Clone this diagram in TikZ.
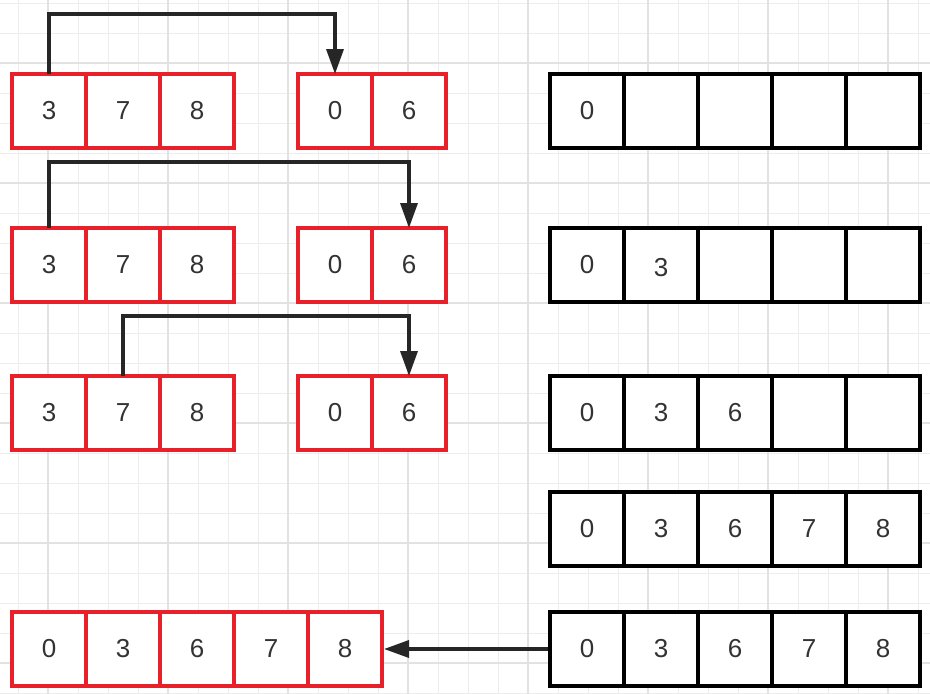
\documentclass[tikz,border=0pt]{standalone}
\usepackage{fontspec}
\setmainfont{Liberation Sans}
\usetikzlibrary{chains,arrows.meta}
\definecolor{cellred}{HTML}{E8202A}
\definecolor{ink}{HTML}{262626}
\definecolor{gridminor}{HTML}{EDEDED}
\definecolor{gridmajor}{HTML}{E2E2E2}

\begin{document}
\begin{tikzpicture}[x=1pt,y=-1pt]
        \tikzstyle{every node}=[font=\fontsize{26}{30}\selectfont,text=black!80]

        \edef\sizecell{74pt}
        \tikzstyle{rc}=[draw=cellred,line width=4pt,fill=white,minimum size=\sizecell,outer sep=0pt,inner sep=0pt]
        \tikzstyle{bc}=[draw=black,line width=4.5pt,fill=white,minimum size=\sizecell,outer sep=0pt,inner sep=0pt]
        \tikzstyle{link}=[draw=ink,line width=3.5pt,-{Triangle[width=17pt,length=25pt]}]
        \tikzstyle{gridline}=[draw=gridminor,line width=1pt]
        \tikzstyle{gridbold}=[draw=gridmajor,line width=1.5pt]

        \useasboundingbox (0,0) rectangle (930,694);
        \fill[white] (0,0) rectangle (930,694);

        %background grid
        \foreach \x in {18,48,...,918} \draw[gridline] (\x,0) -- (\x,694);
        \foreach \y in {3,33,...,693} \draw[gridline] (0,\y) -- (930,\y);
        \foreach \x in {48,168,...,888} \draw[gridbold] (\x,0) -- (\x,694);
        \foreach \y in {63,183,...,663} \draw[gridbold] (0,\y) -- (930,\y);

        %step 1
        \begin{scope}[start chain=a going right,node distance=0pt]
        \node [on chain=a,rc] at (49,111) (a0) {3};
        \node [on chain=a,rc] (a1) {7};
        \node [on chain=a,rc] (a2) {8};
        \end{scope}
        \begin{scope}[start chain=b going right,node distance=0pt]
        \node [on chain=b,rc] at (335,111) (b0) {0};
        \node [on chain=b,rc] (b1) {6};
        \end{scope}
        \begin{scope}[start chain=c going right,node distance=0pt]
        \node [on chain=c,bc] at (587,111) (c0) {0};
        \node [on chain=c,bc] (c1) {};
        \node [on chain=c,bc] (c2) {};
        \node [on chain=c,bc] (c3) {};
        \node [on chain=c,bc] (c4) {};
        \end{scope}

        %step 2
        \begin{scope}[start chain=d going right,node distance=0pt]
        \node [on chain=d,rc] at (49,265) (d0) {3};
        \node [on chain=d,rc] (d1) {7};
        \node [on chain=d,rc] (d2) {8};
        \end{scope}
        \begin{scope}[start chain=e going right,node distance=0pt]
        \node [on chain=e,rc] at (335,265) (e0) {0};
        \node [on chain=e,rc] (e1) {6};
        \end{scope}
        \begin{scope}[start chain=f going right,node distance=0pt]
        \node [on chain=f,bc] at (587,265) (f0) {0};
        \node [on chain=f,bc] (f1) {\raisebox{-3pt}[\height][\depth]{3}};
        \node [on chain=f,bc] (f2) {};
        \node [on chain=f,bc] (f3) {};
        \node [on chain=f,bc] (f4) {};
        \end{scope}

        %step 3
        \begin{scope}[start chain=g going right,node distance=0pt]
        \node [on chain=g,rc] at (49,413) (g0) {3};
        \node [on chain=g,rc] (g1) {7};
        \node [on chain=g,rc] (g2) {8};
        \end{scope}
        \begin{scope}[start chain=h going right,node distance=0pt]
        \node [on chain=h,rc] at (335,413) (h0) {0};
        \node [on chain=h,rc] (h1) {6};
        \end{scope}
        \begin{scope}[start chain=k going right,node distance=0pt]
        \node [on chain=k,bc] at (587,413) (k0) {0};
        \node [on chain=k,bc] (k1) {3};
        \node [on chain=k,bc] (k2) {6};
        \node [on chain=k,bc] (k3) {};
        \node [on chain=k,bc] (k4) {};
        \end{scope}

        %step 4
        \begin{scope}[start chain=m going right,node distance=0pt]
        \node [on chain=m,bc] at (587,529) (m0) {0};
        \node [on chain=m,bc] (m1) {3};
        \node [on chain=m,bc] (m2) {6};
        \node [on chain=m,bc] (m3) {7};
        \node [on chain=m,bc] (m4) {8};
        \end{scope}

        %copy back
        \begin{scope}[start chain=n going right,node distance=0pt]
        \node [on chain=n,rc] at (49,649) (n0) {0};
        \node [on chain=n,rc] (n1) {3};
        \node [on chain=n,rc] (n2) {6};
        \node [on chain=n,rc] (n3) {7};
        \node [on chain=n,rc] (n4) {8};
        \end{scope}
        \begin{scope}[start chain=p going right,node distance=0pt]
        \node [on chain=p,bc] at (587,649) (p0) {0};
        \node [on chain=p,bc] (p1) {3};
        \node [on chain=p,bc] (p2) {6};
        \node [on chain=p,bc] (p3) {7};
        \node [on chain=p,bc] (p4) {8};
        \end{scope}

        %arrows
        \draw [link] (a0.north) -- ++(0,-60) -| (b0.north);
        \draw [link] (d0.north) -- ++(0,-66) -| (e1.north);
        \draw [link] (g1.north) -- ++(0,-60) -| (h1.north);
        \draw [link] ([xshift=-2pt]p0.west) -- ([xshift=2pt]n4.east);
\end{tikzpicture}
\end{document}
